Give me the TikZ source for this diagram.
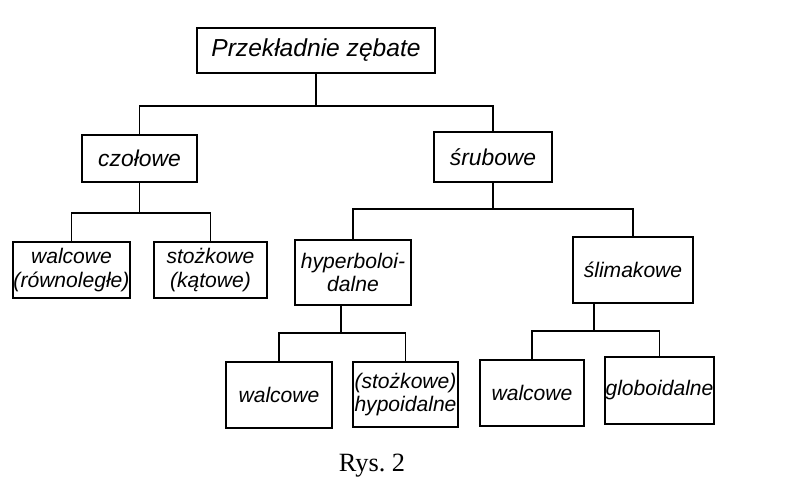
\documentclass[tikz,border=0pt]{standalone}
\usepackage{fontspec}
\setmainfont{Liberation Serif}
\newfontfamily\lettering{Liberation Sans}
\newlength\px
\setlength\px{0.02cm}

\begin{document}
\begin{tikzpicture}[x=0.02cm,y=-0.02cm]
		\tikzset{box/.style={draw, line width=1.1pt, align=center, inner xsep=0.5pt, inner ysep=1pt,
			font=\lettering\itshape\fontsize{12}{13.5}\selectfont}}
\useasboundingbox (0,0) rectangle (798,497);

\node[box, minimum width=238\px, minimum height=45\px, font=\lettering\itshape\fontsize{14}{16}\selectfont] (gears) at (316,50.5) {Przekładnie zębate};
\node[box, minimum width=115\px, minimum height=47\px, font=\lettering\itshape\fontsize{13}{15}\selectfont] (spur) at (139.5,158.5) {czołowe};
\node[box, minimum width=118\px, minimum height=50\px, font=\lettering\itshape\fontsize{13}{15}\selectfont] (screw) at (493,157) {śrubowe};
\node[box, minimum width=117\px, minimum height=56\px] (cyl1) at (71.5,270) {walcowe\\(równoległe)};
\node[box, minimum width=113\px, minimum height=56\px] (bevel) at (210.5,270) {stożkowe\\(kątowe)};
\node[box, minimum width=116\px, minimum height=65\px] (hyper) at (353,272.5) {hyperboloi-\\dalne};
\node[box, minimum width=120\px, minimum height=66\px] (worm) at (633,270) {ślimakowe};
\node[box, minimum width=106\px, minimum height=66\px] (cyl2) at (279,395) {walcowe};
\node[box, minimum width=105\px, minimum height=65\px] (hypoid) at (405.5,394.5) {(stożkowe)\\hypoidalne};
\node[box, minimum width=104\px, minimum height=66\px] (cyl3) at (532,393) {walcowe};
\node[box, minimum width=105\px, minimum height=67\px] (globo) at (659.5,390.5) {globoidalne};

\node[font=\fontsize{15}{17}\selectfont] (caption) at (372,466) {Rys.~2};

% junctions of the branches
\coordinate (j1) at (316,106);
\coordinate (j2) at (139.5,213);
\coordinate (j3) at (493,209);
\coordinate (j4) at (341,333);
\coordinate (j5) at (594,331);

\draw[line width=0.7pt] (gears) -- (j1);
\draw[line width=0.7pt] (spur) -- (j2);
\draw[line width=0.7pt] (screw) -- (j3);
\draw[line width=0.7pt] (j4 |- hyper.south) -- (j4);
\draw[line width=0.7pt] (j5 |- worm.south) -- (j5);

\foreach \from/\to in {j1/spur,j1/screw,j2/cyl1,j2/bevel,j3/hyper,j3/worm,j4/cyl2,j4/hypoid,j5/cyl3,j5/globo}
{
	\draw[line width=0.7pt] (\from) -| (\to.north);
}

		\end{tikzpicture}
\end{document}
